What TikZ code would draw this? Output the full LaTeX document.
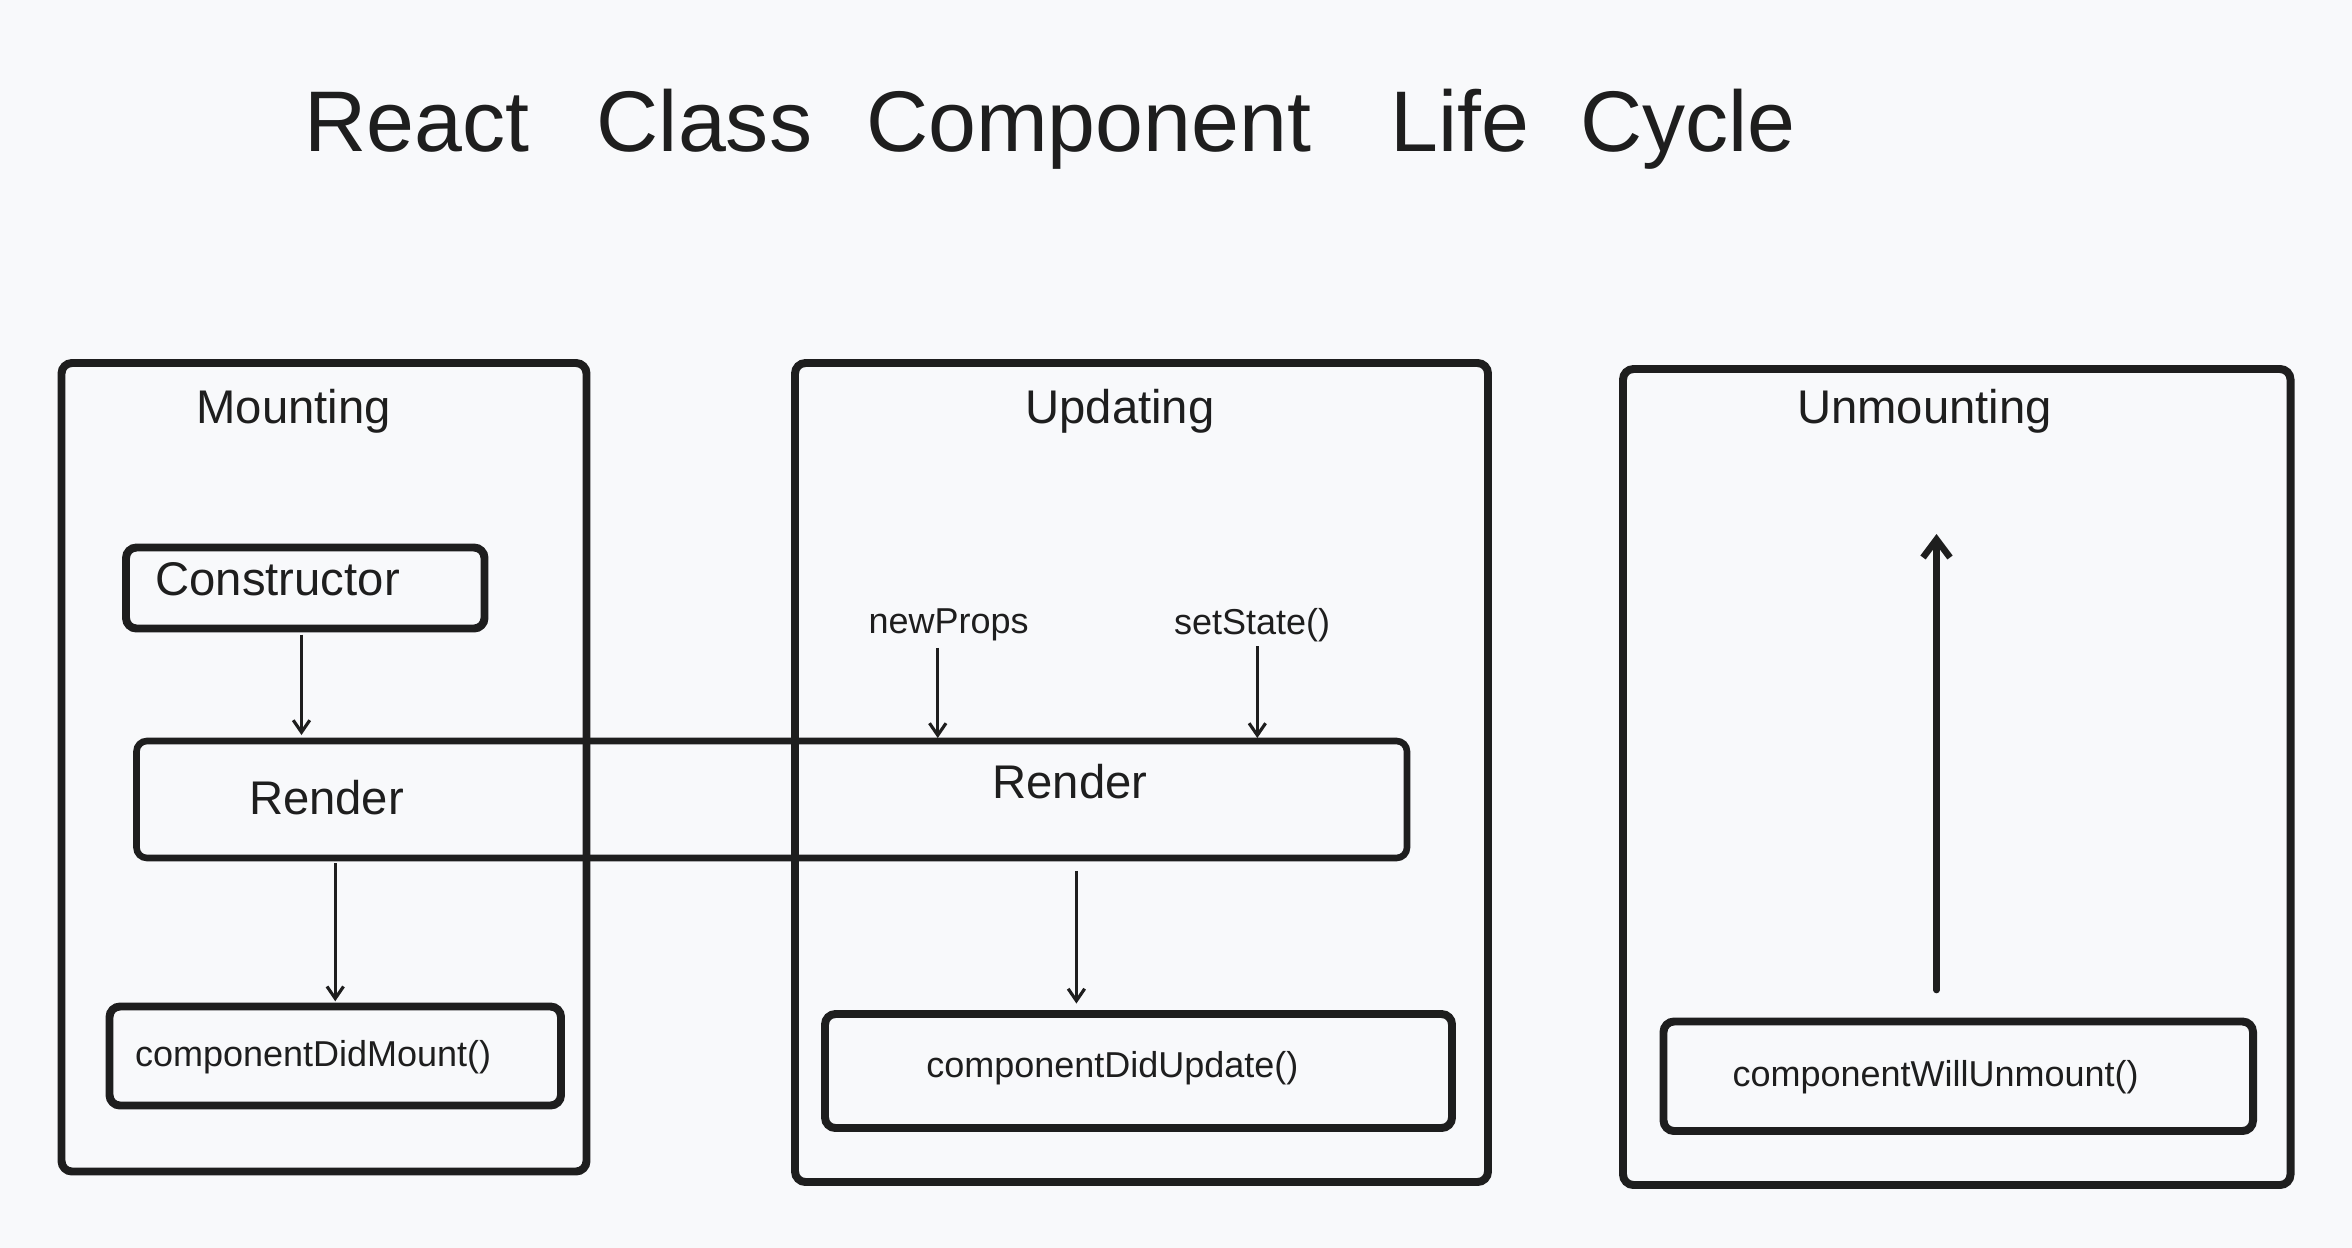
\documentclass[tikz,border=0pt]{standalone}
\usepackage{fontspec}
\setmainfont{Liberation Sans}
\usetikzlibrary{arrows.meta}
\definecolor{ink}{HTML}{1E1E1E}
\definecolor{paper}{HTML}{F8F9FB}

\begin{document}
\begin{tikzpicture}[x=1pt, y=-1pt,
        frame/.style={draw=ink, line width=5.3pt, rounded corners=7pt, inner sep=0pt, outer sep=0pt},
        txt/.style={text=ink, inner sep=0pt, outer sep=0pt, anchor=base west},
        big/.style={font=\fontsize{31.5}{34}\selectfont},
        small/.style={font=\fontsize{24}{26}\selectfont},
        flow/.style={draw=ink, line width=2.1pt, -{Straight Barb[length=8pt,width=11pt]}}]
            \fill[paper] (0,0) rectangle (1568,832);
            \useasboundingbox (0,0) rectangle (1568,832);

            % title
            \node[txt, font=\fontsize{57.4}{60}\selectfont] (title) at (203,101)
                {React\hspace{45pt}Class\hspace{36pt}Component\hspace{53pt}Life\hspace{34pt}Cycle};

            % the three phases
            \node[frame, minimum width=350, minimum height=539] (mounting) at (216,511.5) {};
            \node[frame, minimum width=462, minimum height=546] (updating) at (761,515) {};
            \node[frame, minimum width=445, minimum height=544] (unmounting) at (1304.5,518) {};
            \node[txt, big] (mountlabel) at (131,282) {Mounting};
            \node[txt, big] (updatelabel) at (683.6,282) {Updating};
            \node[txt, big] (unmountlabel) at (1198,282) {Unmounting};

            % boxes
            \node[frame, minimum width=239, minimum height=54] (ctor) at (203.5,392) {};
            \node[frame, line width=4.4pt, minimum width=847, minimum height=78] (render) at (514.5,533) {};
            \node[frame, minimum width=301, minimum height=66] (mount) at (223.5,704) {};
            \node[frame, minimum width=418, minimum height=76] (update) at (759,714) {};
            \node[frame, minimum width=393, minimum height=73] (unmount) at (1305.5,717.5) {};

            \node[txt, big] (ctortext) at (103.7,397) {Constructor};
            \node[txt, big] (rendertext) at (166,543) {Render};
            \node[txt, big] (rendertextb) at (661.6,532) {Render};
            \node[txt, small] (mounttext) at (90,711) {componentDidMount()};
            \node[txt, small] (updatetext) at (617.5,718.5) {componentDidUpdate()};
            \node[txt, small] (unmounttext) at (1155,724) {componentWillUnmount()};
            \node[txt, small] (props) at (579,422) {newProps};
            \node[txt, small] (state) at (782.7,423) {setState()};

            % arrows
            \draw[flow, shorten <=4pt, shorten >=4pt] ([xshift=-2.5pt]ctor.south) -- ([xshift=-2.5pt]ctor.south |- render.north);
            \draw[flow, shorten <=3.5pt, shorten >=3.5pt] (mount.north |- render.south) -- (mount.north);
            \draw[flow, shorten <=8.5pt, shorten >=7pt] ([xshift=-41.4pt]update.north |- render.south) -- ([xshift=-41.4pt]update.north);
            \draw[flow, shorten <=5pt, shorten >=2pt] ([xshift=-7.2pt]props.south) -- ([xshift=-7.2pt]props.south |- render.north);
            \draw[flow, shorten <=3pt, shorten >=2pt] ([xshift=3.5pt]state.south) -- ([xshift=3.5pt]state.south |- render.north);
            \coordinate (unmounttop) at (1291,356);
            \draw[draw=ink, line width=4.4pt, line cap=round, -{Straight Barb[length=12pt,width=18pt]}, shorten <=21pt]
                (unmount.north -| unmounttop) -- (unmounttop);
        \end{tikzpicture}
\end{document}
